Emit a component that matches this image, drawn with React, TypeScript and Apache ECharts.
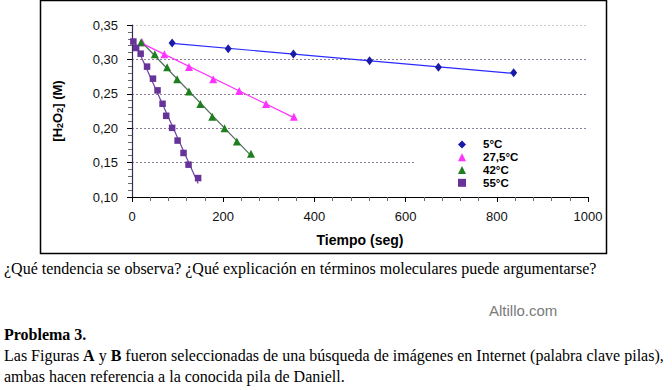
import { useEffect, useRef } from "react";
import * as echarts from "echarts";

// ---- data ----
const seriesNames = ["5°C", "27,5°C", "42°C", "55°C"];
const t5 = [88, 211, 354, 521, 672, 837];
const c5 = [0.324, 0.3155, 0.3078, 0.298, 0.2885, 0.2805];
const t27 = [22, 71, 125, 178, 235, 294, 355];
const c27 = [0.325, 0.3074, 0.289, 0.271, 0.254, 0.235, 0.2167];
const t42 = [20, 50, 77, 99, 125, 150, 176, 203, 230, 261];
const c42 = [0.325, 0.3074, 0.2885, 0.271, 0.2535, 0.235, 0.2167, 0.2, 0.1805, 0.163];
const t55 = [3, 9, 19, 33, 46, 56, 67, 75, 88, 100, 113, 124, 145];
const c55 = [0.326, 0.3166, 0.3083, 0.2895, 0.272, 0.255, 0.2355, 0.218, 0.2005, 0.182, 0.164, 0.147, 0.1275];
const xTicks = [0, 200, 400, 600, 800, 1000];
const yTicks = [0.1, 0.15, 0.2, 0.25, 0.3, 0.35];

const question = "¿Qué tendencia se observa? ¿Qué explicación en términos moleculares puede argumentarse?";
const watermark = "Altillo.com";
const problemTitle = "Problema 3.";
const para1 = "{n|Las Figuras }{b|A}{n| y }{b|B}{n| fueron seleccionadas de una búsqueda de imágenes en Internet (palabra clave pilas),}";
const para2 = "ambas hacen referencia a la conocida pila de Daniell.";

const colors = ["#1a1aa8", "#ff33ff", "#1f7f1f", "#663399"];
const lineColors = ["#2a2aff", "#ff33ff", "#4d6b5c", "#6b3fa0"];
const symbols = ["diamond", "triangle", "triangle", "rect"];
const symbolSizes: any[] = [[7, 9], 8, 8, 6.5];

function fit(t: number[], c: number[]) {
  const n = t.length;
  const mt = t.reduce((a, b) => a + b, 0) / n;
  const mc = c.reduce((a, b) => a + b, 0) / n;
  let num = 0, den = 0;
  for (let i = 0; i < n; i++) {
    num += (t[i] - mt) * (c[i] - mc);
    den += (t[i] - mt) ** 2;
  }
  const m = num / den;
  const b = mc - m * mt;
  const t0 = Math.min(...t), t1 = Math.max(...t);
  return [[t0, m * t0 + b], [t1, m * t1 + b]];
}

export default function App() {
  const ref = useRef<HTMLDivElement>(null);
  useEffect(() => {
    if (!ref.current) return;
    const chart = echarts.init(ref.current, undefined, { renderer: "svg" });
    const ts = [t5, t27, t42, t55];
    const cs = [c5, c27, c42, c55];
    const series: any[] = [];
    ts.forEach((t, i) => {
      series.push({
        type: "line",
        name: "fit" + i,
        data: fit(t, cs[i]),
        showSymbol: false,
        symbol: "none",
        lineStyle: { color: lineColors[i], width: 1.2 },
        z: 2,
        silent: true,
      });
    });
    ts.forEach((t, i) => {
      series.push({
        type: "scatter",
        name: seriesNames[i],
        data: t.map((x, j) => [x, cs[i][j]]),
        symbol: symbols[i],
        symbolSize: symbolSizes[i],
        itemStyle: { color: colors[i], opacity: 1 },
        z: 3,
      });
    });
    const font = "Liberation Sans";
    chart.setOption({
      animation: false,
      backgroundColor: "#ffffff",
      grid: { left: 132, right: 84, top: 25, bottom: 193 },
      xAxis: {
        type: "value",
        min: 0,
        max: 1000,
        interval: 200,
        name: "Tiempo (seg)",
        nameLocation: "middle",
        nameGap: 36,
        nameTextStyle: { fontFamily: font, fontWeight: "bold", fontSize: 14, color: "#000" },
        axisLine: { show: true, lineStyle: { color: "#000", width: 1.2 } },
        axisTick: { show: true, length: 5, lineStyle: { color: "#000" } },
        minorTick: { show: true, splitNumber: 5, length: 4, lineStyle: { color: "#5f6f66" } },
        axisLabel: {
          fontFamily: font,
          fontSize: 13,
          color: "#111",
          margin: 13,
          customValues: xTicks,
          formatter: (v: number) => String(v),
        },
        splitLine: { show: false },
      },
      yAxis: {
        type: "value",
        min: 0.1,
        max: 0.35,
        interval: 0.05,
        name: "{a|[H}{s|2}{a|O}{s|2}{a|] (M)}",
        nameLocation: "middle",
        nameRotate: 90,
        nameGap: 68,
        nameTextStyle: {
          rich: {
            a: { fontFamily: font, fontWeight: "bold", fontSize: 13, color: "#000" },
            s: { fontFamily: font, fontWeight: "bold", fontSize: 9, color: "#000", padding: [5, 0, 0, 0] },
          },
        },
        axisLine: { show: true, lineStyle: { color: "#3a2a50", width: 1.2 } },
        axisTick: { show: true, length: 5, lineStyle: { color: "#000" } },
        minorTick: { show: true, splitNumber: 5, length: 4, lineStyle: { color: "#5f6f66" } },
        axisLabel: {
          fontFamily: font,
          fontSize: 13,
          color: "#111",
          margin: 14,
          customValues: yTicks,
          formatter: (v: number) => v.toFixed(2).replace(".", ","),
        },
        splitLine: {
          show: true,
          lineStyle: {
            type: [2, 2],
            color: ["#8e7f9e", "#8e7f9e", "#8e7f9e", "#8e7f9e", "#8e7f9e", "#c9c9c9"],
            width: 1,
          },
        },
      },
      legend: {
        data: seriesNames.map((n, i) => ({ name: n, icon: symbols[i] })),
        orient: "vertical",
        left: 415,
        top: 136,
        padding: [2, 70, 4, 43],
        backgroundColor: "#ffffff",
        itemGap: 0,
        itemWidth: 8,
        itemHeight: 8,
        textStyle: {
          fontFamily: font,
          fontWeight: "bold",
          fontSize: 11.5,
          color: "#000",
          lineHeight: 12.8,
          padding: [0, 0, 0, 12],
        },
        selectedMode: false,
        z: 10,
      },
      graphic: [
        {
          type: "rect",
          shape: { x: 40.5, y: 0.5, width: 566, height: 253 },
          style: { fill: "none", stroke: "#000", lineWidth: 1.5 },
          silent: true,
          z: 100,
        },
        {
          type: "text",
          x: 4,
          y: 268,
          style: { text: question, fontFamily: "Liberation Serif", fontSize: 16, fill: "#000", verticalAlign: "middle" },
        },
        {
          type: "text",
          x: 489,
          y: 310,
          style: { text: watermark, fontFamily: "Liberation Sans", fontSize: 15, fill: "#7a7a7a", verticalAlign: "middle" },
        },
        {
          type: "text",
          x: 4,
          y: 334,
          style: { text: problemTitle, fontFamily: "Liberation Serif", fontWeight: "bold", fontSize: 16, fill: "#000", verticalAlign: "middle" },
        },
        {
          type: "text",
          x: 4,
          y: 355,
          style: {
            text: para1,
            verticalAlign: "middle",
            rich: {
              n: { fontFamily: "Liberation Serif", fontSize: 16, fill: "#000" },
              b: { fontFamily: "Liberation Serif", fontSize: 16, fontWeight: "bold", fill: "#000" },
            },
          },
        },
        {
          type: "text",
          x: 4,
          y: 376,
          style: { text: para2, fontFamily: "Liberation Serif", fontSize: 16, fill: "#000", verticalAlign: "middle" },
        },
      ],
      series,
    });
    return () => chart.dispose();
  }, []);
  return <div ref={ref} style={{ position: "absolute", left: 0, top: 0, width: 672, height: 390 }} />;
}
